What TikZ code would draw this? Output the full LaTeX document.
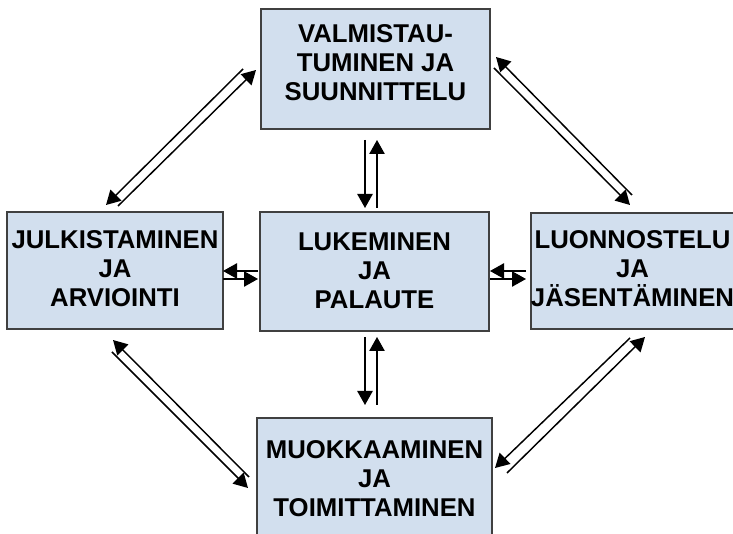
\documentclass[tikz,border=0pt]{standalone}
\usepackage{fontspec}
\setmainfont{Liberation Sans}
\usetikzlibrary{arrows.meta}
\definecolor{boxfill}{RGB}{210,223,238}
\definecolor{boxline}{RGB}{64,64,64}
\begin{document}
\begin{tikzpicture}[x=0.75pt,y=-0.75pt,
  box/.style={draw=boxline,line width=1.1pt,fill=boxfill,inner sep=0pt},
  lbl/.style={font=\fontsize{19.3}{21.8}\selectfont\bfseries,align=center,inner sep=0pt},
  arr/.style={line width=1.1pt,-{Triangle[length=10.5pt,width=11.5pt]}}]
\useasboundingbox (0,0) rectangle (733,534);
\clip (0,0) rectangle (733,534);
% boxes
\node[box,minimum width=229*0.75pt,minimum height=120*0.75pt] (top) at (375.5,69) {};
\node[box,minimum width=216*0.75pt,minimum height=117*0.75pt] (left) at (115,270.5) {};
\node[box,minimum width=229*0.75pt,minimum height=119*0.75pt] (mid) at (374.5,271.5) {};
\node[box,minimum width=203*0.75pt,minimum height=116*0.75pt] (right) at (632.5,271) {};
\node[box,minimum width=235*0.75pt,minimum height=124*0.75pt] (bot) at (374.5,480) {};
% labels
\node[lbl] (toplbl) at (375.5,62.5) {VALMISTAU-\\TUMINEN JA\\SUUNNITTELU};
\node[lbl] (leftlbl) at (115,268.5) {JULKISTAMINEN\\JA\\ARVIOINTI};
\node[lbl] (midlbl) at (374.5,271) {LUKEMINEN\\JA\\PALAUTE};
\node[lbl] (rightlbl) at (632.5,268.5) {LUONNOSTELU\\JA\\JÄSENTÄMINEN};
\node[lbl] (botlbl) at (374.5,478.5) {MUOKKAAMINEN\\JA\\TOIMITTAMINEN};
% connector end points
\coordinate (tm1) at (365,140); \coordinate (tm2) at (365,208);
\coordinate (mt1) at (377,208); \coordinate (mt2) at (377,140);
\coordinate (mb1) at (365,337); \coordinate (mb2) at (365,405);
\coordinate (bm1) at (377,405); \coordinate (bm2) at (377,337);
\coordinate (ml1) at (258,271); \coordinate (ml2) at (223,271);
\coordinate (lm1) at (223,279); \coordinate (lm2) at (258,279);
\coordinate (rm1) at (526,271); \coordinate (rm2) at (490,271);
\coordinate (mr1) at (490,279); \coordinate (mr2) at (526,279);
\coordinate (lt1) at (118,206); \coordinate (lt2) at (256,70);
\coordinate (tl1) at (243,69);  \coordinate (tl2) at (106,205);
\coordinate (rt1) at (632,195); \coordinate (rt2) at (496,57);
\coordinate (tr1) at (494,68);  \coordinate (tr2) at (630,205);
\coordinate (bl1) at (249,477); \coordinate (bl2) at (113,340);
\coordinate (lb1) at (112,352); \coordinate (lb2) at (248,488);
\coordinate (br1) at (507,473); \coordinate (br2) at (645,337);
\coordinate (rb1) at (630,338); \coordinate (rb2) at (495,468);
% connectors
\draw[arr] (tm1) -- (tm2);
\draw[arr] (mt1) -- (mt2);
\draw[arr] (mb1) -- (mb2);
\draw[arr] (bm1) -- (bm2);
\draw[arr] (ml1) -- (ml2);
\draw[arr] (lm1) -- (lm2);
\draw[arr] (rm1) -- (rm2);
\draw[arr] (mr1) -- (mr2);
\draw[arr] (lt1) -- (lt2);
\draw[arr] (tl1) -- (tl2);
\draw[arr] (rt1) -- (rt2);
\draw[arr] (tr1) -- (tr2);
\draw[arr] (bl1) -- (bl2);
\draw[arr] (lb1) -- (lb2);
\draw[arr] (br1) -- (br2);
\draw[arr] (rb1) -- (rb2);
\end{tikzpicture}
\end{document}
